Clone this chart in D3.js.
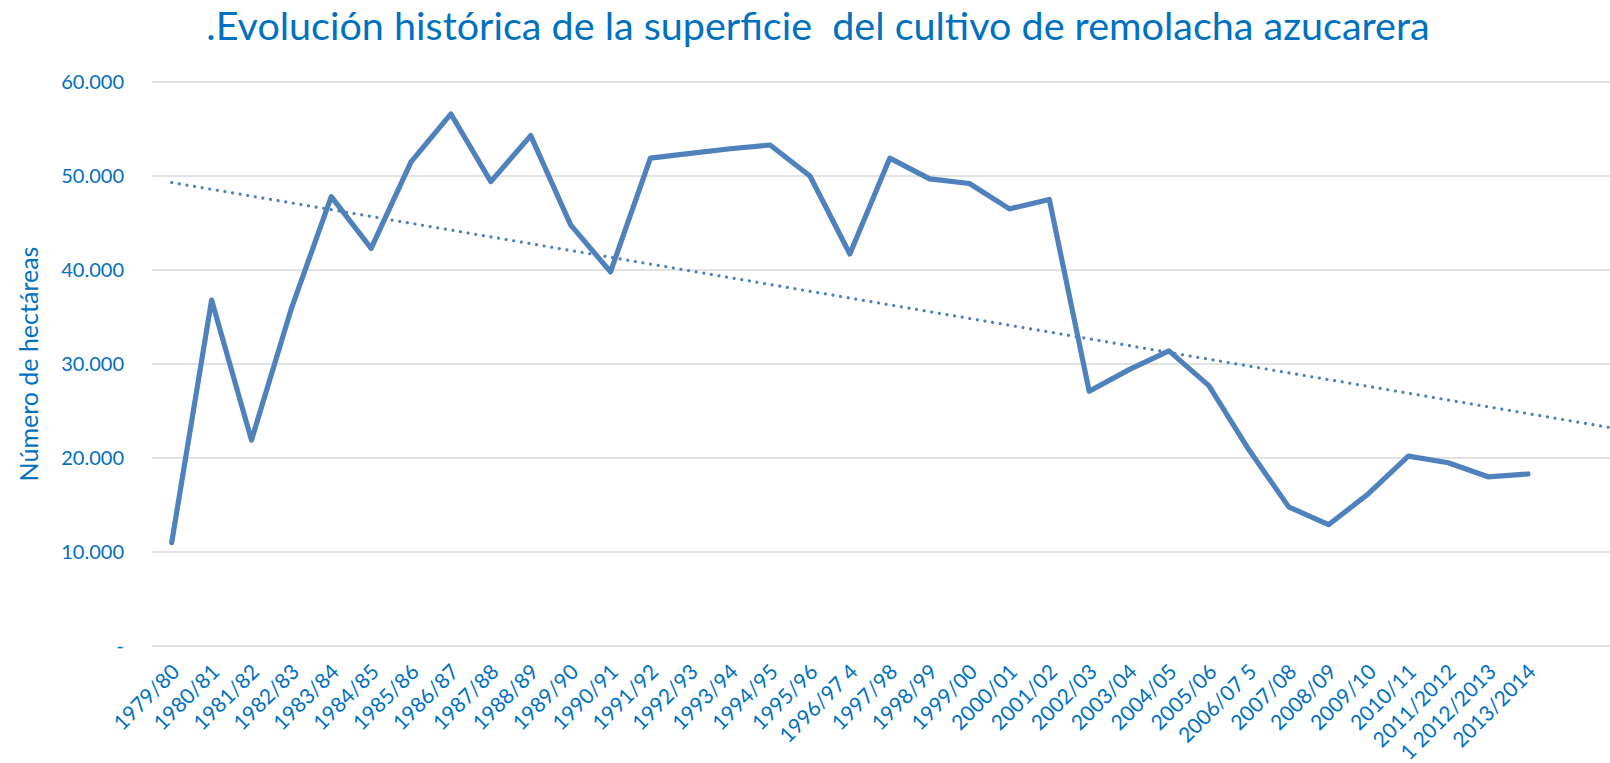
<html>
<script src='https://d3js.org/d3.v7.min.js'></script>
<style>
body { margin: 0; background: white; }
text { font-family: Lato, 'Open Sans', sans-serif; fill: #0070C0; }
</style>
<body>
<svg width=1610 height=763></svg>
<script>
// campaigns and hectares
const campaigns = ["1979/80", "1980/81", "1981/82", "1982/83", "1983/84", "1984/85", "1985/86",
    "1986/87", "1987/88", "1988/89", "1989/90", "1990/91", "1991/92", "1992/93", "1993/94",
    "1994/95", "1995/96", "1996/97 4", "1997/98", "1998/99", "1999/00", "2000/01", "2001/02",
    "2002/03", "2003/04", "2004/05", "2005/06", "2006/07 5", "2007/08", "2008/09", "2009/10",
    "2010/11", "2011/2012", "1 2012/2013", "2013/2014"];
const hectareas = [11000, 36800, 21900, 35900, 47800, 42300, 51500, 56600, 49400, 54300,
    44800, 39800, 51900, 52400, 52900, 53300, 50000, 41700, 51900, 49700, 49200, 46500,
    47500, 27100, 29400, 31400, 27700, 20900, 14800, 12900, 16200, 20200, 19500, 18000, 18300];
const yTicks = [0, 10000, 20000, 30000, 40000, 50000, 60000];

const title = ".Evolución histórica de la superficie  del cultivo de remolacha azucarera";
const yTitle = "Número de hectáreas";

const svg = d3.select("svg");
const mLeft = 152, mRight = 1610, mTop = 82, mBottom = 646;

const x = d3.scalePoint()
    .domain(campaigns)
    .range([171.7, 1528]);

const y = d3.scaleLinear()
    .domain([0, 60000])
    .range([mBottom, mTop]);

// index -> px, used for the trend line
const xi = d3.scaleLinear().domain([0, campaigns.length - 1]).range(x.range());

const loc = d3.formatLocale({decimal: ",", thousands: ".", grouping: [3], currency: ["", ""]});
const fmt = v => v === 0 ? "-" : loc.format(",")(v);

// gridlines
svg.append("g")
    .selectAll("line")
    .data(yTicks)
    .enter()
    .append("line")
    .attr("x1", mLeft)
    .attr("x2", mRight)
    .attr("y1", d => y(d))
    .attr("y2", d => y(d))
    .attr("stroke", "#d9d9d9")
    .attr("stroke-width", 1.5);

// y axis labels
const yAxis = svg.append("g")
    .attr("transform", "translate(" + (mLeft - 28) + ",0)")
    .call(d3.axisLeft(y).tickValues(yTicks).tickFormat(fmt).tickSize(0).tickPadding(0));
yAxis.select(".domain").remove();
yAxis.selectAll("text")
    .attr("fill", "#0070C0")
    .style("font-size", "20px")
    .style("font-family", "Lato");

// x axis labels, rotated
svg.append("g")
    .selectAll("text")
    .data(campaigns)
    .enter()
    .append("text")
    .attr("transform", d => "translate(" + (x(d) + 4) + ",668) rotate(-45)")
    .attr("text-anchor", "end")
    .attr("dy", "0.35em")
    .style("font-size", "21px")
    .style("white-space", "pre")
    .text(d => d);

// trend line (linear regression over the data)
const mx = d3.mean(hectareas, (d, i) => i);
const my = d3.mean(hectareas);
const slope = d3.sum(hectareas, (d, i) => (i - mx) * (d - my)) / d3.sum(hectareas, (d, i) => (i - mx) * (i - mx));
const icpt = my - slope * mx;
const iEnd = xi.invert(mRight);

svg.append("line")
    .attr("x1", xi(0))
    .attr("y1", y(icpt))
    .attr("x2", xi(iEnd))
    .attr("y2", y(icpt + slope * iEnd))
    .attr("stroke", "#4F81BD")
    .attr("stroke-width", 3.2)
    .attr("stroke-linecap", "round")
    .attr("stroke-dasharray", "0.01 7.7");

// data line
svg.append("path")
    .datum(hectareas)
    .attr("fill", "none")
    .attr("stroke", "#4F81BD")
    .attr("stroke-width", 5.2)
    .attr("stroke-linejoin", "round")
    .attr("stroke-linecap", "round")
    .attr("d", d3.line().x((d, i) => x(campaigns[i])).y(d => y(d)));

// titles
svg.append("text")
    .attr("x", 818)
    .attr("y", 40)
    .attr("text-anchor", "middle")
    .style("font-size", "39.5px")
    .style("white-space", "pre")
    .text(title);

svg.append("text")
    .attr("transform", "translate(38,364) rotate(-90)")
    .attr("text-anchor", "middle")
    .style("font-size", "25px")
    .text(yTitle);
</script>
</body>
</html>
